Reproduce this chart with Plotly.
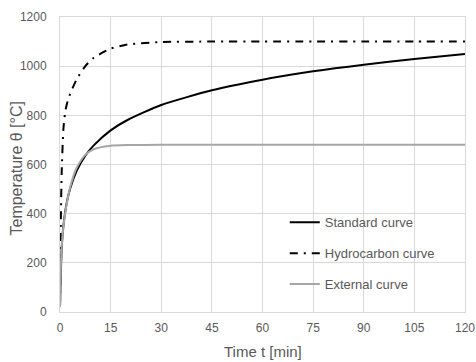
import plotly.graph_objects as go

t_std = [0, 0.5, 1, 2, 3, 5, 7.5, 10, 15, 20, 30, 45, 60, 75, 90, 105, 120]
standard = [20, 261, 349, 445, 502, 576, 636, 678, 739, 781, 842, 902, 945, 979, 1006, 1029, 1049]

t_hc = [0, 0.25, 0.5, 1, 1.5, 2, 3, 5, 7.5, 10, 15, 20, 30, 45, 60, 75, 90, 105, 120]
hydrocarbon = [20, 373, 568, 743, 810, 844, 887, 948, 1000, 1034, 1071, 1088, 1098, 1100, 1100, 1100, 1100, 1100, 1100]

t_ext = [0, 0.25, 0.5, 1, 1.5, 2, 3, 4, 5, 7.5, 10, 15, 20, 30, 45, 60, 75, 90, 105, 120]
external = [20, 182, 263, 346, 399, 441, 506, 554, 588, 639, 662, 676, 679, 680, 680, 680, 680, 680, 680, 680]

x_ticks = [0, 15, 30, 45, 60, 75, 90, 105, 120]
y_ticks = [0, 200, 400, 600, 800, 1000, 1200]

x_title = "Time t [min]"
y_title = "Temperature θ [°C]"

FONT = "Liberation Sans Narrow, Arial Narrow, Liberation Sans, Arial, sans-serif"
GREY_TXT = "#595959"

fig = go.Figure()
fig.add_trace(go.Scatter(x=t_std, y=standard, mode="lines", name="Standard curve",
                         line=dict(color="#000000", width=2, shape="spline", smoothing=0.6),
                         legendgroup="a"))
fig.add_trace(go.Scatter(x=t_hc, y=hydrocarbon, mode="lines", name="Hydrocarbon curve",
                         line=dict(color="#000000", width=2, dash="8px,6px,2px,6px", shape="spline", smoothing=0.6),
                         legendgroup="b"))
fig.add_trace(go.Scatter(x=t_ext, y=external, mode="lines", name="External curve",
                         line=dict(color="#a6a6a6", width=2, shape="spline", smoothing=0.6),
                         legendgroup="c"))

fig.update_layout(
    width=476, height=362,
    margin=dict(l=60, r=11, t=17, b=50),
    paper_bgcolor="white", plot_bgcolor="white",
    font=dict(family=FONT, size=12, color=GREY_TXT),
    showlegend=True,
    legend=dict(x=0.555, y=0.355, xanchor="left", yanchor="top",
                bgcolor="rgba(0,0,0,0)", tracegroupgap=11,
                font=dict(family=FONT, size=13, color=GREY_TXT)),
    xaxis=dict(range=[0, 120], tickvals=x_ticks, ticktext=[str(v) for v in x_ticks],
               showgrid=True, gridcolor="#d9d9d9", gridwidth=1, zeroline=False,
               showline=True, linecolor="#d9d9d9", mirror=True, ticks="",
               automargin=False, ticklabelstandoff=5),
    yaxis=dict(range=[0, 1200], tickvals=y_ticks, ticktext=[str(v) for v in y_ticks],
               showgrid=True, gridcolor="#d9d9d9", gridwidth=1, zeroline=False,
               showline=True, linecolor="#d9d9d9", mirror=True, ticks="",
               automargin=False, ticklabelstandoff=10),
    annotations=[
        dict(text=x_title, xref="paper", yref="paper", x=0.5, y=0,
             xanchor="center", yanchor="middle", yshift=-39, showarrow=False,
             font=dict(family=FONT, size=15, color=GREY_TXT)),
        dict(text=y_title, xref="paper", yref="paper", x=0, y=0.5,
             xanchor="center", yanchor="middle", xshift=-44, yshift=-4,
             textangle=-90, showarrow=False,
             font=dict(family=FONT, size=16, color=GREY_TXT)),
    ],
)

fig.write_html("out.html", config={"displayModeBar": False},
               post_script="document.body.style.margin='0';document.body.style.overflow='hidden';")
